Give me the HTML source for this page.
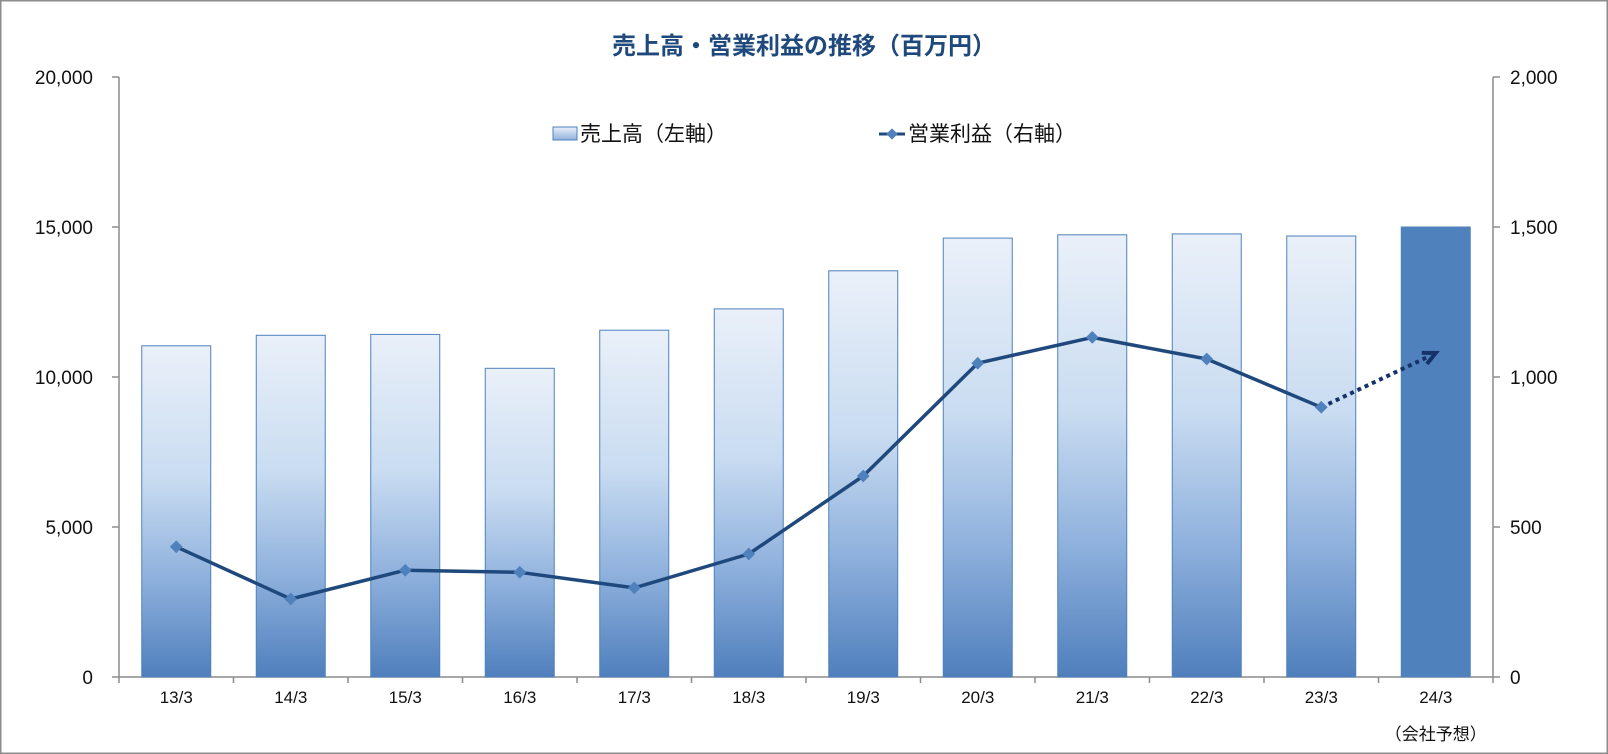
<!DOCTYPE html>
<html><head><meta charset="utf-8"><style>
html,body{margin:0;padding:0;background:#fff}
svg{display:block;font-family:"Liberation Sans","Noto Sans CJK JP",sans-serif}
</style></head><body>
<svg width="1608" height="754" viewBox="0 0 1608 754" xmlns="http://www.w3.org/2000/svg">
<defs>
<linearGradient id="barGrad" x1="0" y1="0" x2="0" y2="1">
<stop offset="0" stop-color="#eaf0f9"/>
<stop offset="0.4" stop-color="#c9dcf1"/>
<stop offset="0.7" stop-color="#8fb1dd"/>
<stop offset="1" stop-color="#4f7fbc"/>
</linearGradient>
<linearGradient id="legGrad" x1="0" y1="0" x2="0" y2="1">
<stop offset="0" stop-color="#eaf0f9"/><stop offset="1" stop-color="#8fb1dd"/>
</linearGradient>
</defs>
<rect x="0.75" y="0.75" width="1606.5" height="752.5" fill="#fff" stroke="#8c8c8c" stroke-width="1.5"/>
<text x="804" y="54" text-anchor="middle" font-size="24" font-weight="bold" fill="#1f497d">売上高・営業利益の推移（百万円）</text>
<g id="axes"></g>
<g id="bars"></g>
<g id="line"></g>
<g>
<rect x="553" y="127" width="24" height="13" fill="url(#legGrad)" stroke="#4f81bd"/>
<text x="580" y="141" font-size="21" fill="#111">売上高（左軸）</text>
<line x1="879" y1="134" x2="905" y2="134" stroke="#1f497d" stroke-width="3"/>
<rect x="888" y="130" width="8" height="8" fill="#4f81bd" transform="rotate(45 892 134)"/>
<text x="908" y="141" font-size="21" fill="#111">営業利益（右軸）</text>
</g>
</svg>
<script>
const categories=["13/3","14/3","15/3","16/3","17/3","18/3","19/3","20/3","21/3","22/3","23/3","24/3"];
const sales=[11040,11390,11420,10290,11560,12270,13540,14630,14740,14770,14700,15000];
const profit=[434,260,356,349,297,410,670,1046,1132,1060,899,1080];
const leftTicks=[0,5000,10000,15000,20000];
const rightTicks=[0,500,1000,1500,2000];
const tickLabelsL=["0","5,000","10,000","15,000","20,000"];
const tickLabelsR=["0","500","1,000","1,500","2,000"];
const NS="http://www.w3.org/2000/svg";
const X0=119,X1=1493,Y0=677,Y1=77;
const bw=(X1-X0)/categories.length;
const xc=i=>X0+bw*(i+0.5);
const yL=v=>Y0-(v/20000)*(Y0-Y1);
const yR=v=>Y0-(v/2000)*(Y0-Y1);
function mk(tag,attrs,parent,txt){const e=document.createElementNS(NS,tag);for(const k in attrs)e.setAttribute(k,attrs[k]);if(txt!=null)e.textContent=txt;parent.appendChild(e);return e;}
const ax=document.getElementById('axes');
let e=mk('line',{x1:X0,y1:Y1,x2:X0,y2:Y0,stroke:'#8c8c8c','stroke-width':1.5},ax);


e=mk('line',{x1:X1,y1:Y1,x2:X1,y2:Y0,stroke:'#8c8c8c','stroke-width':1.5},ax);


e=mk('line',{x1:X0,y1:Y0,x2:X1,y2:Y0,stroke:'#8c8c8c','stroke-width':1.5},ax);


leftTicks.forEach((v,i)=>{const y=yL(v);
 mk('line',{x1:X0-7,y1:y,x2:X0,y2:y,stroke:'#8c8c8c','stroke-width':1.5},ax);
 const t=mk('text',{x:93,y:y+7,'text-anchor':'end','font-size':19,fill:'#111'},ax,tickLabelsL[i]);
 
 });
rightTicks.forEach((v,i)=>{const y=yR(v);
 mk('line',{x1:X1,y1:y,x2:X1+7,y2:y,stroke:'#8c8c8c','stroke-width':1.5},ax);
 const t=mk('text',{x:1510,y:y+7,'font-size':19,fill:'#111'},ax,tickLabelsR[i]);
 
 });
for(let i=0;i<=categories.length;i++){const x=X0+bw*i;mk('line',{x1:x,y1:Y0,x2:x,y2:Y0+6,stroke:'#8c8c8c','stroke-width':1.5},ax);}
categories.forEach((c,i)=>{const t=mk('text',{x:xc(i),y:703,'text-anchor':'middle','font-size':17,fill:'#111'},ax,c);
 
 });
e=mk('text',{x:xc(11),y:740,'text-anchor':'middle','font-size':17,fill:'#111'},ax,'（会社予想）');


const bg=document.getElementById('bars');
sales.forEach((v,i)=>{const w=69,y=yL(v);const last=i===sales.length-1;
 const r=mk('rect',{x:xc(i)-w/2,y:y,width:w,height:Y0-y,fill:last?'#4f81bd':'url(#barGrad)',stroke:'#4f81bd','stroke-width':1},bg);
 
 });
const lg=document.getElementById('line');
const n=profit.length-1;
const pts=profit.slice(0,n).map((v,i)=>xc(i)+','+yR(v)).join(' ');
e=mk('polyline',{points:pts,fill:'none',stroke:'#1f497d','stroke-width':3.5,'stroke-linejoin':'round'},lg);


const xa=xc(n-1),ya=yR(profit[n-1]),xb=xc(n),yb=yR(profit[n]);
e=mk('line',{x1:xa,y1:ya,x2:xb-6,y2:yb+3,stroke:'#17326b','stroke-width':4,'stroke-dasharray':'4 4'},lg);


const ang=Math.atan2(yb-ya,xb-xa);
const ah=(a)=>[xb-14*Math.cos(ang+a),yb-14*Math.sin(ang+a)];
const p1=ah(0.45),p2=ah(-0.45);
e=mk('polyline',{points:`${p1} ${xb},${yb} ${p2}`,fill:'none',stroke:'#17326b','stroke-width':4},lg);


profit.slice(0,n).forEach((v,i)=>{const x=xc(i),y=yR(v);
 const m=mk('rect',{x:x-4.5,y:y-4.5,width:9,height:9,fill:'#4f81bd',transform:`rotate(45 ${x} ${y})`},lg);
 
 });
</script>
</body></html>
